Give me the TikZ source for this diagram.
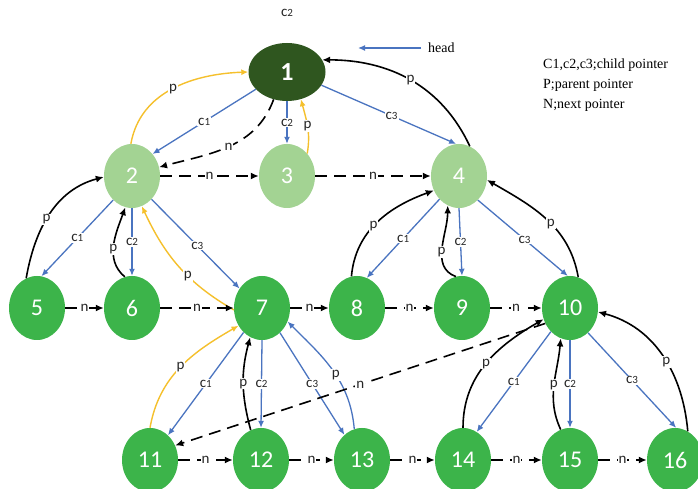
\documentclass[tikz,border=0pt]{standalone}
\usepackage{fontspec}
\setmainfont{Carlito}
\newfontfamily\legendfont{Liberation Serif}
\usetikzlibrary{arrows.meta,shapes.geometric}

\definecolor{rootgreen}{HTML}{2F561F}
\definecolor{palegreen}{HTML}{A3D393}
\definecolor{leafgreen}{HTML}{3CB44A}
\definecolor{ptrblue}{HTML}{4A74C0}
\definecolor{ptryellow}{HTML}{F5C02C}

\newcommand{\cl}[1]{c{\fontsize{11}{11}\selectfont #1}}

\tikzset{
  vertex/.style={ellipse, inner sep=0pt, minimum width=56pt, minimum height=64pt,
    text=white, font=\fontsize{24}{24}\selectfont},
  rootv/.style={vertex, fill=rootgreen, minimum width=77pt, minimum height=58pt,
    font=\bfseries\fontsize{26}{26}\selectfont},
  upperv/.style={vertex, fill=palegreen},
  lowerv/.style={vertex, fill=leafgreen},
  child/.style={draw=ptrblue, line width=1.3pt, -{Latex[length=7pt,width=6pt]}},
  parent/.style={draw=black, line width=1.6pt, -{Latex[length=8pt,width=7pt]}},
  parenty/.style={draw=ptryellow, line width=1.4pt, -{Latex[length=7pt,width=6pt]}},
  parentb/.style={child},
  nextp/.style={draw=black, line width=1.6pt, dash pattern=on 12pt off 7pt,
    -{Latex[length=8pt,width=7pt]}},
  lbl/.style={fill=white, inner sep=1pt, font=\fontsize{15}{15}\selectfont, text=black!85},
  legend/.style={font=\legendfont\fontsize{14}{20}\selectfont, inner sep=2pt},
}

\begin{document}
\begin{tikzpicture}[x=1pt,y=1pt]
\clip (0,0) rectangle (698,489);
\fill[white] (0,0) rectangle (698,489);

% tree nodes
\node[rootv]  (n1)  at (287,417) {1};
\node[upperv] (n2)  at (132,313) {2};
\node[upperv] (n3)  at (287,313) {3};
\node[upperv] (n4)  at (459,313) {4};
\node[lowerv] (n5)  at (37,181)  {5};
\node[lowerv] (n6)  at (132,181) {6};
\node[lowerv] (n7)  at (262,181) {7};
\node[lowerv] (n8)  at (357,181) {8};
\node[lowerv] (n9)  at (462,181) {9};
\node[lowerv] (n10) at (570,181) {10};
\node[lowerv] (n11) at (150,29)  {11};
\node[lowerv] (n12) at (261,29)  {12};
\node[lowerv] (n13) at (362,29)  {13};
\node[lowerv] (n14) at (463,29)  {14};
\node[lowerv] (n15) at (570,29)  {15};
\node[lowerv] (n16) at (675,29)  {16};

% captions
\node[lbl] (topc2) at (287,476) {\cl{2}};
\node[legend, anchor=west] (headtxt) at (426,441) {head};
\coordinate (headtip) at (358,441);
\draw[child, shorten <=5pt] (headtxt.west) -- (headtip);
\node[legend, anchor=north west, align=left] (key) at (541,432)
  {C1,c2,c3;child pointer\\P;parent pointer\\N;next pointer};

% root level
\draw[child] (n1.209) -- node[lbl] {\cl{1}} (n2.47);
\draw[child] (n1.south) -- node[lbl] {\cl{2}} (n3.north);
\draw[child] (n1.339) -- node[lbl, pos=0.52] {\cl{3}} (n4.95);
\draw[parenty] (n2.92) to[out=80,in=182] node[lbl, pos=0.5] {p} (n1.180);
\draw[nextp] (n1.244) to[out=250,in=15] node[lbl] {n} (n2.18);
\draw[parenty] (n3.48) to[out=80,in=285] node[lbl] {p} (n1.297);
\draw[parent] (n4.70) to[out=115,in=0] node[lbl] {p} (n1.19);
\draw[nextp] (n2.east) -- node[lbl] {n} (n3.west);
\draw[nextp] (n3.east) -- node[lbl] {n} (n4.west);

% children of 2
\draw[child] (n2.232) -- node[lbl] {\cl{1}} (n5.82);
\draw[child] (n2.south) -- node[lbl] {\cl{2}} (n6.north);
\draw[child] (n2.310) -- node[lbl, pos=0.52] {\cl{3}} (n7.139);
\draw[parent] (n5.110) to[out=80,in=195] node[lbl, pos=0.45] {p} (n2.182);
\draw[parent] (n6.103) to[out=140,in=250] node[lbl, pos=0.45] {p} (n2.258);
\draw[parenty] (n7.184) to[out=150,in=295] node[lbl, pos=0.4] {p} (n2.288);

% children of 4
\draw[child] (n4.230) -- node[lbl] {\cl{1}} (n8.72);
\draw[child] (n4.south) -- node[lbl] {\cl{2}} (n9.north);
\draw[child] (n4.308) -- node[lbl, pos=0.52] {\cl{3}} (n10.94);
\draw[parent] (n8.100) to[out=85,in=200] node[lbl, pos=0.45] {p} (n4.210);
\draw[parent] (n9.101) to[out=160,in=270] node[lbl, pos=0.45] {p} (n4.249);
\draw[parent] (n10.75) to[out=100,in=330] node[lbl, pos=0.45] {p} (n4.352);

% next pointers, middle row
\draw[nextp] (n5.east) -- node[lbl] {n} (n6.west);
\draw[nextp] (n6.east) -- node[lbl] {n} (n7.west);
\draw[nextp] (n7.east) -- node[lbl] {n} (n8.west);
\draw[nextp] (n8.east) -- node[lbl] {n} (n9.west);
\draw[nextp] (n9.east) -- node[lbl] {n} (n10.west);

% children of 7
\draw[child] (n7.233) -- node[lbl] {\cl{1}} (n11.54);
\draw[child] (n7.south) -- node[lbl] {\cl{2}} (n12.north);
\draw[child] (n7.306) -- node[lbl] {\cl{3}} (n13.125);
\draw[parenty] (n11.90) to[out=80,in=210] node[lbl, pos=0.5] {p} (n7.217);
\draw[parent] (n12.109) to[out=105,in=255] node[lbl] {p} (n7.248);
\draw[parentb] (n13.104) to[out=95,in=315] node[lbl, pos=0.45] {p} (n7.332);

% children of 10
\draw[child] (n10.231) -- node[lbl] {\cl{1}} (n14.64);
\draw[child] (n10.south) -- node[lbl] {\cl{2}} (n15.north);
\draw[child] (n10.306) -- node[lbl] {\cl{3}} (n16.88);
\draw[parent] (n14.90) to[out=90,in=210] node[lbl] {p} (n10.203);
\draw[parent] (n15.107) to[out=115,in=265] node[lbl] {p} (n10.253);
\draw[parent] (n16.66) to[out=95,in=345] node[lbl, pos=0.45] {p} (n10.352);

% next pointers, bottom row
\draw[nextp] (n10.212) -- node[lbl] {n} (n11.30);
\draw[nextp] (n11.east) -- node[lbl] {n} (n12.west);
\draw[nextp] (n12.east) -- node[lbl] {n} (n13.west);
\draw[nextp] (n13.east) -- node[lbl] {n} (n14.west);
\draw[nextp] (n14.east) -- node[lbl] {n} (n15.west);
\draw[nextp] (n15.east) -- node[lbl] {n} (n16.west);
\end{tikzpicture}
\end{document}
